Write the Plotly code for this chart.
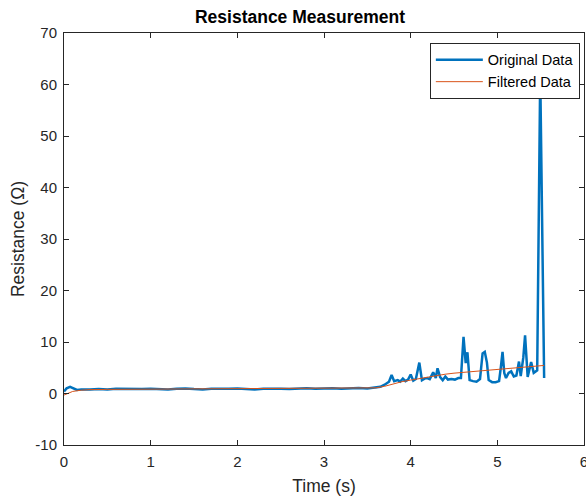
import plotly.graph_objects as go

# Original data (time s, resistance ohm)
orig_t = [0.0, 0.03, 0.07, 0.11, 0.15, 0.2, 0.25,
          0.3, 0.4, 0.5, 0.6, 0.7, 0.8, 0.9, 1.0, 1.1, 1.2, 1.3, 1.4, 1.5, 1.6, 1.7, 1.8, 1.9,
          2.0, 2.1, 2.2, 2.3, 2.4, 2.5, 2.6, 2.7, 2.8, 2.9, 3.0, 3.1, 3.2, 3.3, 3.4, 3.5, 3.6,
          3.65, 3.7, 3.75, 3.78, 3.81, 3.85, 3.88, 3.91, 3.94, 3.97, 4.0, 4.03, 4.06, 4.1,
          4.13, 4.16, 4.19, 4.22, 4.26, 4.29, 4.31, 4.34, 4.37, 4.40, 4.43, 4.47, 4.51, 4.55,
          4.58, 4.61, 4.635, 4.655, 4.68, 4.72, 4.76, 4.80, 4.83, 4.855, 4.88, 4.90, 4.94,
          4.98, 5.02, 5.04, 5.06, 5.08, 5.10, 5.13, 5.16, 5.19, 5.22, 5.25, 5.27, 5.30, 5.32,
          5.35, 5.39, 5.42, 5.46, 5.495, 5.54]
orig_r = [0.4, 1.0, 1.3, 1.0, 0.7, 0.8, 0.75,
          0.8, 0.85, 0.8, 0.9, 0.85, 0.8, 0.85, 0.9, 0.85, 0.8, 0.9, 0.95, 0.85, 0.8, 0.9, 0.85, 0.9,
          0.95, 0.85, 0.8, 0.9, 0.95, 0.9, 0.85, 0.9, 1.0, 0.9, 0.95, 1.0, 0.9, 1.0, 1.05, 0.95, 1.1,
          1.3, 1.7, 2.3, 3.6, 2.4, 2.6, 2.3, 2.9, 2.4, 2.7, 3.7, 2.5, 2.8, 6.0,
          2.6, 2.9, 3.0, 2.8, 4.1, 3.0, 4.9, 3.2, 2.6, 3.3, 2.7, 2.8, 2.7, 3.0,
          3.0, 11.0, 5.9, 8.0, 2.6, 2.4, 2.3, 2.8, 7.8, 8.1, 6.0, 2.6, 2.2,
          2.2, 2.4, 5.0, 8.1, 4.0, 3.0, 4.0, 4.3, 3.3, 3.5, 6.2, 3.4, 7.0, 11.3,
          3.2, 6.1, 4.0, 4.5, 62.0, 3.0]

# Filtered data
filt_t = [0.0, 0.05, 0.1, 0.2, 0.3, 0.5, 1.0, 1.5, 2.0, 2.5, 3.0, 3.5, 3.6, 3.7, 3.8, 3.9,
          4.0, 4.1, 4.2, 4.3, 4.4, 4.5, 4.6, 4.7, 4.8, 4.9, 5.0, 5.1, 5.2, 5.3, 5.4, 5.54]
filt_r = [-0.3, 0.1, 0.4, 0.65, 0.75, 0.8, 0.85, 0.87, 0.9, 0.92, 0.95, 1.0, 1.1, 1.4, 1.9, 2.3,
          2.6, 2.9, 3.2, 3.5, 3.75, 3.95, 4.1, 4.25, 4.4, 4.55, 4.7, 4.85, 5.0, 5.2, 5.35, 5.45]

x_ticks = [0, 1, 2, 3, 4, 5, 6]
x_labels = ["0", "1", "2", "3", "4", "5", "6"]
y_ticks = [-10, 0, 10, 20, 30, 40, 50, 60, 70]
y_labels = ["-10", "0", "10", "20", "30", "40", "50", "60", "70"]

FONT = "Liberation Sans, Arial, Helvetica, sans-serif"
AX = "#262626"

fig = go.Figure()
fig.add_trace(go.Scatter(x=orig_t, y=orig_r, mode="lines", name="Original Data",
                         line=dict(color="#0072BD", width=2.5)))
fig.add_trace(go.Scatter(x=filt_t, y=filt_r, mode="lines", name="Filtered Data",
                         line=dict(color="#D95319", width=1)))

axis_common = dict(showgrid=False, zeroline=False, showline=True, linecolor=AX, linewidth=1,
                   mirror="ticks", ticks="inside", ticklen=5, tickcolor=AX,
                   ticklabeloverflow="allow", ticklabelstandoff=3, automargin=False,
                   tickfont=dict(family=FONT, size=15, color=AX))

fig.update_layout(
    width=586, height=496,
    margin=dict(l=64, r=2, t=33, b=51),
    paper_bgcolor="white", plot_bgcolor="white",
    title=dict(text="<b>Resistance Measurement</b>", x=300 / 586, xanchor="center",
               xref="container", y=1 - 17 / 496, yanchor="middle",
               font=dict(family=FONT, size=17.5, color="black")),
    xaxis=dict(range=[0, 6], tickvals=x_ticks, ticktext=x_labels,
               title=dict(text="Time (s)", font=dict(family=FONT, size=17.5, color=AX), standoff=10),
               **axis_common),
    yaxis=dict(range=[-10, 70], tickvals=y_ticks, ticktext=y_labels,
               title=dict(text="Resistance (Ω)", font=dict(family=FONT, size=17.5, color=AX), standoff=6),
               **axis_common),
    legend=dict(x=0.992, y=0.976, xanchor="right", yanchor="top",
                bgcolor="white", bordercolor=AX, borderwidth=1,
                font=dict(family=FONT, size=14.5, color="black"),
                itemwidth=47, tracegroupgap=0),
    showlegend=True,
)

fig.write_html("out.html")
